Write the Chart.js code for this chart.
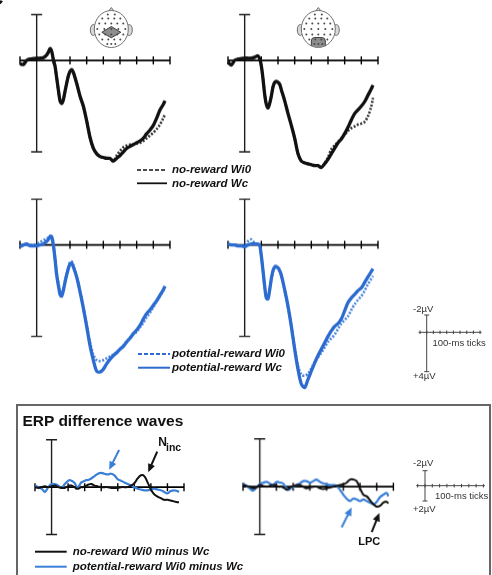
<!DOCTYPE html>
<html>
<head>
<meta charset="utf-8">
<script src="https://cdn.jsdelivr.net/npm/chart.js@4.4.0/dist/chart.umd.min.js"></script>
<style>
  html, body { margin: 0; padding: 0; background: #fff; }
  #fig { position: relative; width: 492px; height: 575px; overflow: hidden; font-family: "Liberation Sans", Arial, sans-serif; color: #111; }
  #fig canvas { position: absolute; left: 0; top: 0; }
  .panel { position: absolute; }
  .t { position: absolute; white-space: nowrap; line-height: 1; }
  .leg { font-size: 11.5px; font-weight: bold; font-style: italic; }
  .sb { font-size: 9.5px; color: #333; }
  #box { position: absolute; left: 16px; top: 404px; width: 475px; height: 250px; border: 2.5px solid #666; box-sizing: border-box; }
</style>
</head>
<body>
<div id="fig">
  <div id="box"></div>
  <canvas id="deco" width="492" height="575"></canvas>

  <span class="t" style="left:-11px;top:-12px;font-size:20px;font-weight:bold;">C</span>

  <span class="t leg" style="left:172px;top:164.2px;">no-reward Wi0</span>
  <span class="t leg" style="left:172px;top:177.5px;">no-reward Wc</span>
  <span class="t leg" style="left:172px;top:348.2px;">potential-reward Wi0</span>
  <span class="t leg" style="left:172px;top:362px;">potential-reward Wc</span>

  <span class="t sb" style="left:413px;top:303.7px;">-2µV</span>
  <span class="t sb" style="left:432.5px;top:338px;">100-ms ticks</span>
  <span class="t sb" style="left:413px;top:370.7px;">+4µV</span>

  <span class="t" style="left:22.5px;top:413px;font-size:15.5px;font-weight:bold;">ERP difference waves</span>
  <span class="t" style="left:158.3px;top:436.3px;font-size:12px;font-weight:bold;">N</span>
  <span class="t" style="left:166px;top:441.5px;font-size:10.5px;font-weight:bold;">inc</span>
  <span class="t" style="left:358.3px;top:536.2px;font-size:11px;font-weight:bold;">LPC</span>

  <span class="t sb" style="left:413px;top:457.5px;">-2µV</span>
  <span class="t sb" style="left:435px;top:491px;">100-ms ticks</span>
  <span class="t sb" style="left:413px;top:504.3px;">+2µV</span>

  <span class="t leg" style="left:72.7px;top:546px;">no-reward Wi0 minus Wc</span>
  <span class="t leg" style="left:72.7px;top:561px;">potential-reward Wi0 minus Wc</span>
</div>

<script>
// time points (ms) and amplitudes (µV, negative plotted up)
const times = [-100, -80, -60, -40, -20, 0, 20, 40, 60,
    70, 80, 90, 100, 110, 120, 130, 140, 150, 160, 170, 180, 190, 200, 210, 220,
    240, 260, 280, 300, 320, 340, 360, 380, 400, 420, 440, 460, 480, 500, 520, 540,
    560, 580, 600, 620, 640, 660, 680, 700, 720, 740, 760, 770];
const tickTimes = [-100, 100, 200, 300, 400, 500, 600, 700, 800];

// central site, no-reward
const centralNoRewardWc = [0.35, 0.45, 0.0, -0.15, -0.2, -0.25, -0.25, -0.3, -0.6,
    -0.9, -1.3, -1.0, -0.1, 0.6, 1.9, 3.2, 4.4, 4.7, 4.3, 3.4, 2.5, 1.7, 1.2, 1.0, 1.3,
    2.5, 3.9, 5.0, 6.6, 8.4, 9.6, 10.2, 10.5, 10.6, 10.7, 10.7, 11.0, 10.7, 10.4, 10.0, 9.6,
    9.4, 9.2, 9.0, 8.8, 8.5, 8.0, 7.6, 7.1, 6.3, 5.4, 4.8, 4.4];
const centralNoRewardWi0 = [0.35, 0.45, 0.0, -0.15, -0.2, -0.25, -0.25, -0.3, -0.6,
    -0.9, -1.3, -1.0, -0.1, 0.6, 1.9, 3.2, 4.4, 4.7, 4.3, 3.4, 2.5, 1.7, 1.2, 1.0, 1.3,
    2.5, 3.9, 5.0, 6.6, 8.4, 9.6, 10.2, 10.5, 10.6, 10.7, 10.7, 11.0, 10.4, 9.9, 9.5, 9.3,
    9.2, 9.2, 9.1, 9.0, 8.8, 8.5, 8.2, 7.9, 7.5, 7.0, 6.3, 5.9];

// posterior site, no-reward
const posteriorNoRewardWc = [0.2, 0.5, 0.0, -0.15, -0.2, -0.25, -0.25, -0.25, -0.35,
    -0.45, -0.5, -0.2, 0.6, 2.0, 3.7, 4.8, 5.2, 4.7, 3.9, 2.9, 2.4, 2.3, 2.4, 2.6, 3.2,
    4.4, 5.8, 7.1, 8.5, 10.2, 11.0, 11.2, 11.3, 11.4, 11.5, 11.5, 11.7, 11.3, 10.8, 10.2, 9.6,
    9.0, 8.6, 8.0, 7.3, 6.5, 5.8, 5.4, 5.0, 4.5, 3.8, 3.1, 2.7];
const posteriorNoRewardWi0 = [0.2, 0.5, 0.0, -0.15, -0.2, -0.25, -0.25, -0.25, -0.35,
    -0.45, -0.5, -0.2, 0.6, 2.0, 3.7, 4.8, 5.2, 4.7, 3.9, 2.9, 2.4, 2.3, 2.4, 2.6, 3.2,
    4.4, 5.8, 7.1, 8.5, 10.2, 11.0, 11.2, 11.3, 11.4, 11.5, 11.5, 11.7, 11.2, 10.6, 9.7, 9.3,
    8.9, 8.5, 8.1, 7.7, 7.4, 7.2, 7.0, 6.9, 6.7, 6.1, 5.0, 4.1];

// central site, potential-reward
const centralPotentialWc = [0.2, 0.0, -0.1, 0.1, 0.1, 0.1, 0.0, -0.1, -0.4,
    -0.6, -0.9, -0.9, 0.0, 1.5, 3.3, 4.4, 5.4, 5.6, 5.0, 4.1, 3.3, 2.6, 2.1, 2.0, 2.4,
    3.5, 5.1, 6.9, 8.9, 11.0, 12.6, 13.8, 13.9, 13.6, 13.0, 12.5, 12.1, 11.8, 11.4, 11.1, 10.6,
    10.2, 9.7, 9.3, 8.8, 8.1, 7.5, 7.1, 6.6, 6.1, 5.5, 4.9, 4.5];
const centralPotentialWi0 = [0.2, 0.0, 0.0, 0.0, 0.0, -0.1, -0.3, -0.5, -0.7,
    -0.8, -1.0, -0.8, 0.1, 1.4, 3.0, 4.1, 5.0, 5.3, 4.8, 3.9, 3.1, 2.4, 1.9, 1.8, 2.2,
    3.4, 5.0, 6.8, 8.7, 10.6, 12.0, 12.6, 12.7, 12.6, 12.4, 12.2, 12.0, 11.7, 11.4, 11.0, 10.6,
    10.1, 9.8, 9.5, 9.0, 8.5, 7.9, 7.4, 6.8, 6.2, 5.6, 5.0, 4.6];

// posterior site, potential-reward
const posteriorPotentialWc = [-0.1, 0.0, 0.0, 0.1, 0.1, 0.2, 0.0, -0.1, -0.1,
    -0.1, -0.1, 0.0, 1.2, 2.8, 4.5, 5.8, 5.9, 4.9, 3.7, 2.8, 2.4, 2.35, 2.5, 2.8, 3.3,
    4.9, 6.7, 8.9, 11.4, 13.6, 15.2, 15.6, 14.7, 13.8, 12.9, 12.1, 11.4, 10.7, 10.0, 9.4, 8.9,
    8.6, 8.1, 7.2, 6.3, 5.8, 5.4, 5.0, 4.7, 4.1, 3.5, 2.9, 2.6];
const posteriorPotentialWi0 = [-0.1, 0.0, 0.0, 0.1, 0.1, 0.1, -0.4, -0.6, -0.2,
    -0.1, -0.1, 0.1, 1.3, 2.9, 4.6, 5.8, 5.9, 5.0, 3.8, 2.9, 2.5, 2.4, 2.6, 2.9, 3.4,
    5.0, 6.8, 8.9, 11.2, 13.2, 14.2, 14.3, 14.1, 13.5, 12.8, 12.3, 11.8, 11.2, 10.6, 10.2, 9.8,
    9.2, 8.6, 8.2, 7.8, 7.1, 6.5, 6.0, 5.6, 5.0, 4.3, 3.7, 3.4];

// difference waves (Wi0 minus Wc)
const centralDiffNoReward = [0.0, 0.1, 0.0, -0.1, 0.0, -0.1, -0.2, 0.0, 0.1,
    0.1, 0.1, 0.0, -0.1, -0.2, -0.2, -0.1, 0.0, 0.2, 0.2, 0.1, 0.0, 0.0, -0.1, -0.2, -0.3,
    -0.4, -0.2, -0.1, 0.0, 0.0, 0.0, 0.1, 0.1, 0.1, 0.0, 0.0, 0.0, -0.2, -0.5, -1.1, -1.5,
    -1.4, -0.6, 0.3, 0.9, 1.2, 1.4, 1.6, 1.6, 1.7, 1.8, 1.9, 1.9];
const centralDiffPotential = [-0.2, 0.0, 0.2, 0.6, 0.0, -0.4, -0.4, -0.2, 0.1,
    -0.1, -0.4, -0.6, -0.8, -0.9, -0.8, -0.7, -0.5, -0.1, 0.0, -0.3, -0.6, -0.7, -0.8, -0.9, -0.9,
    -1.1, -1.4, -1.7, -1.8, -1.7, -1.6, -1.7, -1.5, -1.0, -0.8, -0.6, -0.4, -0.2, 0.0, 0.2, 0.3,
    0.4, 0.4, 0.3, 0.2, 0.3, 0.4, 0.6, 0.8, 0.5, 0.4, 0.5, 0.6];
const posteriorDiffNoReward = [-0.2, -0.1, 0.0, 0.2, 0.1, -0.2, -0.1, 0.0, -0.1,
    -0.2, -0.2, -0.2, -0.1, 0.0, 0.0, 0.0, 0.1, 0.2, 0.4, 0.3, 0.1, 0.0, -0.1, -0.1, -0.2,
    -0.2, 0.0, 0.2, 0.1, 0.0, 0.0, 0.2, 0.3, 0.2, 0.1, 0.0, -0.1, -0.2, -0.3, -0.5, -0.9,
    -0.9, -0.7, 0.2, 1.0, 1.2, 1.7, 2.2, 2.5, 2.4, 2.0, 1.9, 2.1];
const posteriorDiffPotential = [-0.4, -0.1, 0.2, 0.5, 0.1, -0.3, -0.5, -0.6, -0.4,
    -0.2, -0.2, -0.4, -0.6, -0.6, -0.5, -0.5, -0.4, -0.1, 0.2, 0.4, 0.3, 0.1, 0.0, -0.1, -0.2,
    -0.4, -0.7, -0.7, -0.5, -0.7, -0.9, -0.6, -0.4, -0.3, -0.2, -0.2, -0.1, 0.4, 1.0, 1.5, 1.8,
    1.5, 1.6, 1.8, 1.6, 1.8, 2.0, 2.2, 1.9, 1.3, 1.0, 0.8, 1.2];

const BLACK = '#111111';
const BLUE = '#2c6bd0';
const BLUE_DASH = '#4a86dc';
const BLUE_DIFF = '#3a7fd6';
const DASH = [2, 1.6];

// axes drawn ERP style: 0-ms line with end caps, baseline with 100-ms ticks
const erpAxes = {
    id: 'erpAxes',
    beforeDatasetsDraw(chart, args, opts) {
        const { ctx, scales: { x, y } } = chart;
        const x0 = x.getPixelForValue(0);
        const yt = y.getPixelForValue(opts.axisTop);
        const yb = y.getPixelForValue(opts.axisBottom);
        const yz = y.getPixelForValue(0);
        ctx.save();
        ctx.strokeStyle = '#1e1e1e';
        ctx.lineWidth = 1.4;
        ctx.beginPath();
        ctx.moveTo(x0, yt); ctx.lineTo(x0, yb);
        ctx.moveTo(x0 - 5.5, yt); ctx.lineTo(x0 + 5.5, yt);
        ctx.moveTo(x0 - 5.5, yb); ctx.lineTo(x0 + 5.5, yb);
        ctx.stroke();
        ctx.strokeStyle = '#000';
        ctx.lineWidth = 1.8;
        ctx.beginPath();
        ctx.moveTo(x.getPixelForValue(-100), yz);
        ctx.lineTo(x.getPixelForValue(800), yz);
        ctx.stroke();
        ctx.lineWidth = 1.4;
        ctx.beginPath();
        tickTimes.forEach(t => {
            const px = x.getPixelForValue(t);
            ctx.moveTo(px, yz - 4); ctx.lineTo(px, yz + 4);
        });
        ctx.stroke();
        ctx.restore();
    }
};

// arrows pointing at components, given in data coordinates
const arrowMarks = {
    id: 'arrowMarks',
    afterDatasetsDraw(chart, args, opts) {
        const { ctx, scales: { x, y } } = chart;
        (opts.list || []).forEach(a => {
            const x1 = x.getPixelForValue(a.from[0]), y1 = y.getPixelForValue(a.from[1]);
            const x2 = x.getPixelForValue(a.to[0]), y2 = y.getPixelForValue(a.to[1]);
            const ang = Math.atan2(y2 - y1, x2 - x1);
            const head = 9;
            ctx.save();
            ctx.strokeStyle = a.color;
            ctx.fillStyle = a.color;
            ctx.lineWidth = 2;
            ctx.beginPath();
            ctx.moveTo(x1, y1);
            ctx.lineTo(x2 - head * 0.7 * Math.cos(ang), y2 - head * 0.7 * Math.sin(ang));
            ctx.stroke();
            ctx.beginPath();
            ctx.moveTo(x2, y2);
            ctx.lineTo(x2 - head * Math.cos(ang - 0.42), y2 - head * Math.sin(ang - 0.42));
            ctx.lineTo(x2 - head * Math.cos(ang + 0.42), y2 - head * Math.sin(ang + 0.42));
            ctx.closePath();
            ctx.fill();
            ctx.restore();
        });
    }
};

function series(values, color, width, dash) {
    return {
        data: times.map((t, i) => ({ x: t, y: values[i] })),
        borderColor: color,
        borderWidth: width,
        borderDash: dash || [],
        pointRadius: 0,
        fill: false,
        clip: false
    };
}

function makePanel(g, datasets, arrows, tension) {
    const pad = 6;
    const holder = document.createElement('div');
    holder.className = 'panel';
    holder.style.left = (g.x0 - pad) + 'px';
    holder.style.top = (g.base + g.yMin * g.ppu - pad) + 'px';
    holder.style.width = (g.x1 - g.x0 + 2 * pad) + 'px';
    holder.style.height = ((g.yMax - g.yMin) * g.ppu + 2 * pad) + 'px';
    const cv = document.createElement('canvas');
    holder.appendChild(cv);
    document.getElementById('fig').appendChild(holder);

    new Chart(cv, {
        type: 'line',
        data: { datasets: datasets },
        options: {
            responsive: true,
            maintainAspectRatio: false,
            animation: false,
            layout: { padding: pad },
            elements: { line: { tension: tension, borderCapStyle: 'butt', borderJoinStyle: 'round' } },
            plugins: {
                legend: { display: false },
                tooltip: { enabled: false },
                erpAxes: { axisTop: g.axisTop, axisBottom: g.axisBottom },
                arrowMarks: { list: arrows }
            },
            scales: {
                x: { type: 'linear', min: -100, max: 800, display: false },
                y: { min: g.yMin, max: g.yMax, reverse: true, display: false }
            }
        },
        plugins: [erpAxes, arrowMarks]
    });
}

// decorations: head maps, legend samples, scale bars
const electrodeRows = [
    [-14.5, [-3.5, 3.5]],
    [-10.5, [-9, -3, 3, 9]],
    [-5.5, [-12, -6, 0, 6, 12]],
    [0, [-14, -7, 0, 7, 14]],
    [5.5, [-12, -6, 0, 6, 12]],
    [10.5, [-9, -3, 3, 9]],
    [15, [-4, 0, 4]]
];

function drawHead(ctx, cx, cy, site) {
    ctx.save();
    ctx.lineWidth = 1;
    ctx.strokeStyle = '#707070';
    ctx.fillStyle = '#d8d8d8';
    [-1, 1].forEach(s => {
        ctx.beginPath();
        ctx.ellipse(cx + s * 18, cy + 1, 3, 5.5, 0, 0, Math.PI * 2);
        ctx.fill(); ctx.stroke();
    });
    ctx.beginPath();
    ctx.moveTo(cx - 3, cy - 17.5); ctx.lineTo(cx, cy - 21.5); ctx.lineTo(cx + 3, cy - 17.5);
    ctx.closePath();
    ctx.fill(); ctx.stroke();
    ctx.beginPath();
    ctx.ellipse(cx, cy, 17, 18.5, 0, 0, Math.PI * 2);
    ctx.fillStyle = '#fff';
    ctx.fill(); ctx.stroke();

    ctx.save();
    ctx.beginPath();
    ctx.ellipse(cx, cy, 17, 18.5, 0, 0, Math.PI * 2);
    ctx.clip();
    ctx.fillStyle = '#8d8d8d';
    ctx.strokeStyle = '#404040';
    ctx.beginPath();
    if (site === 'central') {
        ctx.moveTo(cx - 9.5, cy + 3.3);
        ctx.lineTo(cx, cy - 2.5);
        ctx.lineTo(cx + 9.5, cy + 3.3);
        ctx.lineTo(cx, cy + 8.8);
    } else {
        ctx.moveTo(cx - 7, cy + 21);
        ctx.lineTo(cx - 7, cy + 12);
        ctx.quadraticCurveTo(cx - 7, cy + 8.5, cx - 3.5, cy + 8.5);
        ctx.lineTo(cx + 3.5, cy + 8.5);
        ctx.quadraticCurveTo(cx + 7, cy + 8.5, cx + 7, cy + 12);
        ctx.lineTo(cx + 7, cy + 21);
    }
    ctx.closePath();
    ctx.fill(); ctx.stroke();
    ctx.restore();

    ctx.fillStyle = '#4a4a4a';
    electrodeRows.forEach(([dy, xs]) => xs.forEach(dx => {
        ctx.beginPath();
        ctx.arc(cx + dx, cy + dy, 1, 0, Math.PI * 2);
        ctx.fill();
    }));
    ctx.restore();
}

function legendLine(ctx, x1, x2, y, color, width, dash) {
    ctx.save();
    ctx.strokeStyle = color;
    ctx.lineWidth = width;
    ctx.setLineDash(dash || []);
    ctx.beginPath();
    ctx.moveTo(x1, y); ctx.lineTo(x2, y);
    ctx.stroke();
    ctx.restore();
}

function scaleBar(ctx, cx, yTop, yBase, yBot, step) {
    ctx.save();
    ctx.strokeStyle = '#444';
    ctx.lineWidth = 1;
    ctx.beginPath();
    ctx.moveTo(cx, yTop); ctx.lineTo(cx, yBot);
    ctx.moveTo(cx - 2.5, yTop); ctx.lineTo(cx + 2.5, yTop);
    ctx.moveTo(cx - 2.5, yBot); ctx.lineTo(cx + 2.5, yBot);
    ctx.moveTo(cx - step - 1.5, yBase); ctx.lineTo(cx + 8 * step + 1.5, yBase);
    for (let k = -1; k <= 8; k++) {
        const px = cx + k * step;
        ctx.moveTo(px, yBase - 1.8); ctx.lineTo(px, yBase + 1.8);
    }
    ctx.stroke();
    ctx.restore();
}

const deco = document.getElementById('deco').getContext('2d');
drawHead(deco, 111.3, 29, 'central');
drawHead(deco, 318.3, 29, 'posterior');
legendLine(deco, 137, 167, 170, BLACK, 1.6, [4, 2]);
legendLine(deco, 137, 167, 183.3, BLACK, 1.8);
legendLine(deco, 138, 170, 354, BLUE, 2, [4, 2]);
legendLine(deco, 138, 170, 367.7, BLUE, 2);
legendLine(deco, 35, 66.7, 551.7, BLACK, 2);
legendLine(deco, 35, 66.7, 566.7, BLUE_DIFF, 2);
scaleBar(deco, 426.7, 315, 332.3, 371.7, 6.67);
scaleBar(deco, 425, 470.7, 485.7, 501, 7.3);

// 1. Grand averages, no-reward
makePanel({ x0: 20.3, x1: 170.3, base: 60, ppu: 9.1, yMin: -6.6, yMax: 12.6, axisTop: -5, axisBottom: 10 },
    [series(centralNoRewardWc, BLACK, 3.3), series(centralNoRewardWi0, '#333', 2.6, DASH)], [], 0.3);
makePanel({ x0: 228.3, x1: 378.3, base: 60.5, ppu: 9.1, yMin: -6.6, yMax: 12.6, axisTop: -5, axisBottom: 10 },
    [series(posteriorNoRewardWc, BLACK, 3.3), series(posteriorNoRewardWi0, '#333', 2.6, DASH)], [], 0.3);

// 2. Grand averages, potential-reward
makePanel({ x0: 20.3, x1: 170.3, base: 245, ppu: 9.1, yMin: -6, yMax: 16.5, axisTop: -5, axisBottom: 10 },
    [series(centralPotentialWc, BLUE, 3.3), series(centralPotentialWi0, BLUE_DASH, 2.6, DASH)], [], 0.3);
makePanel({ x0: 228.3, x1: 378.3, base: 245, ppu: 9.1, yMin: -6, yMax: 16.5, axisTop: -5, axisBottom: 10 },
    [series(posteriorPotentialWc, BLUE, 3.3), series(posteriorPotentialWi0, BLUE_DASH, 2.6, DASH)], [], 0.3);

// 3. Difference waves
makePanel({ x0: 35, x1: 184, base: 487, ppu: 7.9, yMin: -6.6, yMax: 6.6, axisTop: -6, axisBottom: 6 },
    [series(centralDiffNoReward, BLACK, 2), series(centralDiffPotential, BLUE_DIFF, 2.2)],
    [{ from: [408, -4.7], to: [348, -2.2], color: BLUE_DIFF },
     { from: [638, -4.5], to: [584, -1.9], color: BLACK }], 0.4);
makePanel({ x0: 243.3, x1: 392.7, base: 486.5, ppu: 7.9, yMin: -6.6, yMax: 6.6, axisTop: -6, axisBottom: 6 },
    [series(posteriorDiffNoReward, BLACK, 2), series(posteriorDiffPotential, BLUE_DIFF, 2.2)],
    [{ from: [490, 5.1], to: [550, 2.6], color: BLUE_DIFF },
     { from: [670, 5.7], to: [716, 3.3], color: BLACK }], 0.4);
</script>
</body>
</html>
